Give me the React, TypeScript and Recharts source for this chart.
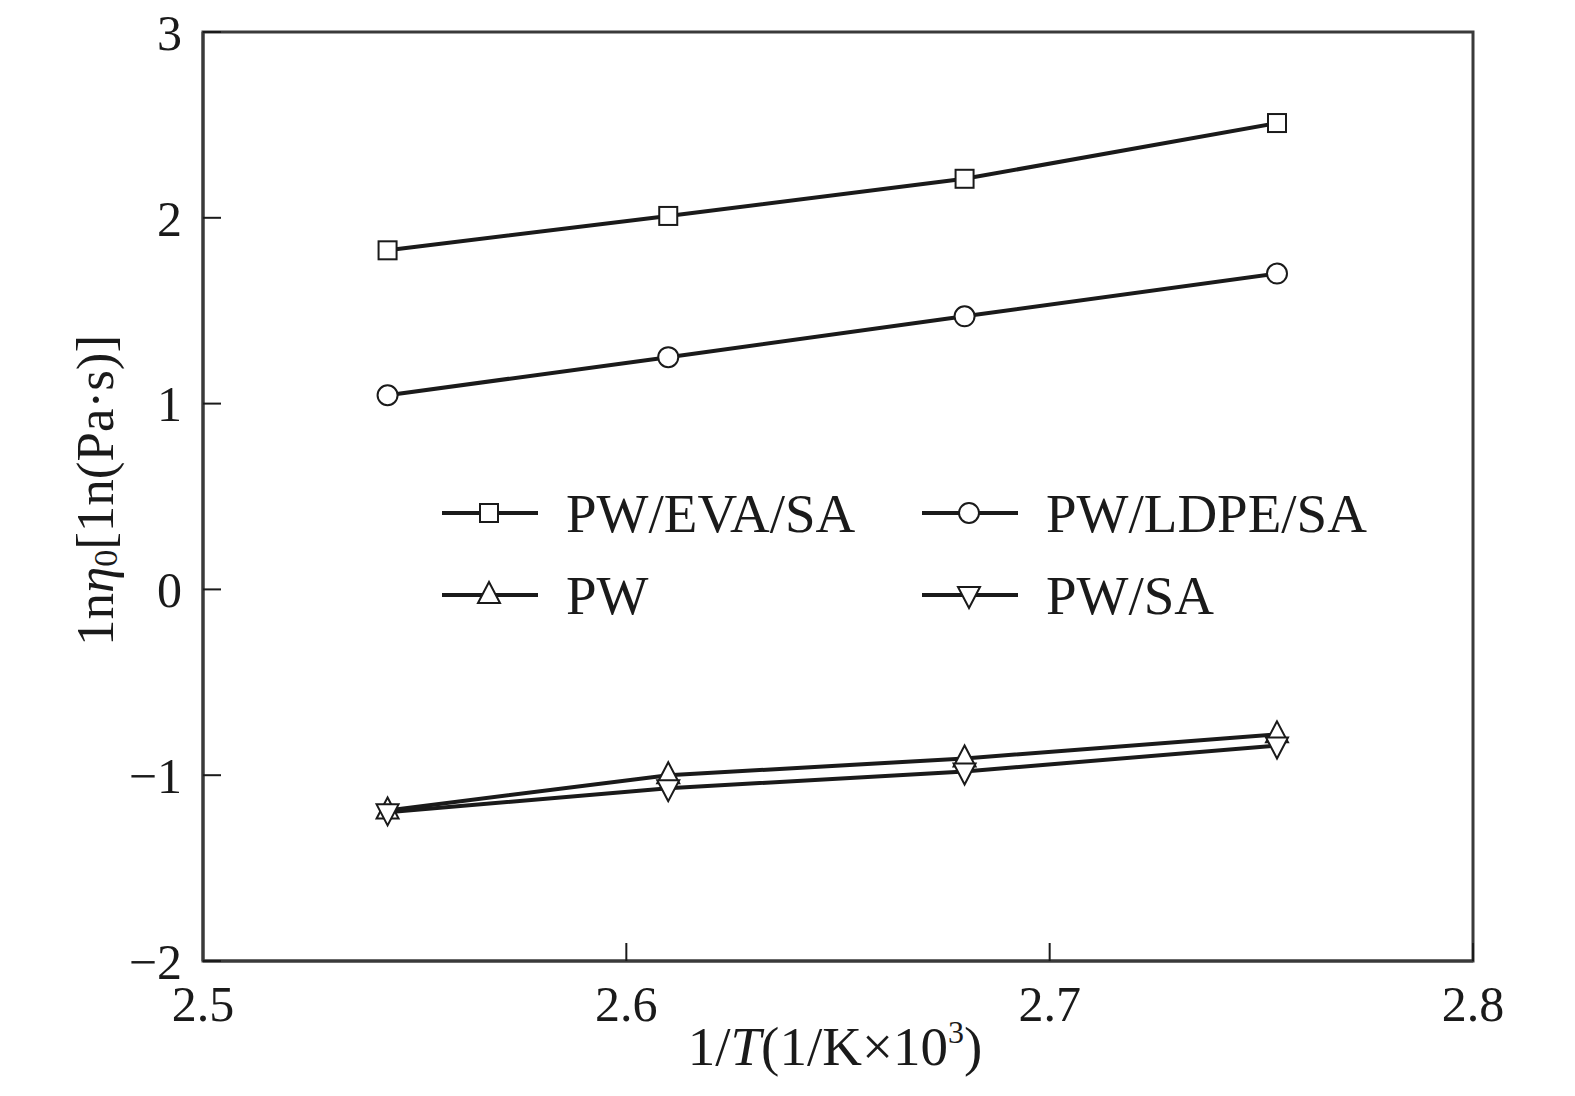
import { LineChart, Line, XAxis, YAxis, ReferenceArea } from 'recharts';

// 1000/T for 120, 110, 100, 90 °C
const invT = [2.5436, 2.6099, 2.6799, 2.7537];
const pwEvaSa = [1.825, 2.01, 2.21, 2.51];
const pwLdpeSa = [1.045, 1.25, 1.47, 1.7];
const pw = [-1.19, -1.0, -0.91, -0.78];
const pwSa = [-1.2, -1.07, -0.98, -0.84];

const xTicks = [2.5, 2.6, 2.7, 2.8];
const yTicks = [-2, -1, 0, 1, 2, 3];

const seriesList = [
  { key: 'eva', name: 'PW/EVA/SA', shape: 'square' },
  { key: 'ldpe', name: 'PW/LDPE/SA', shape: 'circle' },
  { key: 'pw', name: 'PW', shape: 'up' },
  { key: 'pwsa', name: 'PW/SA', shape: 'down' },
];

const rows = invT.map((x, i) => ({
  x,
  eva: pwEvaSa[i],
  ldpe: pwLdpeSa[i],
  pw: pw[i],
  pwsa: pwSa[i],
}));

const FONT = '"Liberation Serif", "Times New Roman", serif';
const INK = '#1a1a1a';
const FRAME = '#3a3a3a';

function Marker({ cx, cy, shape }: { cx: number; cy: number; shape: string }) {
  const common = { fill: '#fff', stroke: INK, strokeWidth: 2 };
  if (shape === 'square') return <rect x={cx - 9} y={cy - 9} width={18} height={18} {...common} />;
  if (shape === 'circle') return <circle cx={cx} cy={cy} r={10} {...common} />;
  if (shape === 'up')
    return <polygon points={`${cx},${cy - 13} ${cx - 11},${cy + 8} ${cx + 11},${cy + 8}`} {...common} />;
  return <polygon points={`${cx},${cy + 13} ${cx - 11},${cy - 8} ${cx + 11},${cy - 8}`} {...common} />;
}

const makeDot = (shape: string) => (props: any) => {
  const { cx, cy, index } = props;
  return <Marker key={`${shape}-${index}`} cx={cx} cy={cy} shape={shape} />;
};

function LegendBox() {
  return (
    <div
      style={{
        position: 'absolute',
        left: 440,
        top: 472,
        display: 'grid',
        gridTemplateColumns: '480px 480px',
        gridAutoRows: '82px',
        fontFamily: FONT,
        fontSize: 55,
        color: INK,
        pointerEvents: 'none',
      }}
    >
      {seriesList.map((s) => (
        <div key={s.key} style={{ display: 'flex', alignItems: 'center' }}>
          <svg width={100} height={40} style={{ overflow: 'visible' }}>
            <line x1={2} y1={20} x2={98} y2={20} stroke={INK} strokeWidth={4} />
            <Marker cx={49} cy={20} shape={s.shape} />
          </svg>
          <span style={{ marginLeft: 26, lineHeight: 1 }}>{s.name}</span>
        </div>
      ))}
    </div>
  );
}

function XTitle(props: any) {
  const { x, y, width } = props.viewBox;
  return (
    <text x={x + width / 2 - 3} y={y + 104} textAnchor="middle" fontFamily={FONT} fontSize={55} fill={INK}>
      1/<tspan fontStyle="italic">T</tspan>(1/K×10
      <tspan dy={-22} fontSize={32}>3</tspan>
      <tspan dy={22}>)</tspan>
    </text>
  );
}

function YTitle(props: any) {
  const { y, height } = props.viewBox;
  const cx = 95;
  const cy = y + height / 2 - 6;
  return (
    <text
      x={cx}
      y={cy}
      transform={`rotate(-90 ${cx} ${cy})`}
      textAnchor="middle"
      dominantBaseline="central"
      fontFamily={FONT}
      fontSize={53}
      fill={INK}
    >
      1n<tspan fontStyle="italic">η</tspan>
      <tspan dy={10} fontSize={34}>0</tspan>
      <tspan dy={-10}>[1n(Pa·s)]</tspan>
    </text>
  );
}

const fmtY = (v: number) => (v < 0 ? `−${Math.abs(v)}` : `${v}`);

export default function App() {
  return (
    <div style={{ position: 'absolute', left: 0, top: 0, width: 1575, height: 1096, background: '#fff' }}>
      <LineChart width={1575} height={1096} data={rows} margin={{ top: 32, right: 102, bottom: 0, left: 0 }}>
        <XAxis
          dataKey="x"
          type="number"
          domain={[2.5, 2.8]}
          ticks={xTicks}
          tickFormatter={(v: number) => v.toFixed(1)}
          height={135}
          axisLine={{ stroke: FRAME, strokeWidth: 3 }}
          tickLine={{ stroke: INK, strokeWidth: 2 }}
          tickSize={-18}
          tickMargin={42}
          tick={{ fontFamily: FONT, fontSize: 50, fill: INK }}
          interval={0}
          label={<XTitle />}
        />
        <YAxis
          type="number"
          domain={[-2, 3]}
          ticks={yTicks}
          tickFormatter={fmtY}
          width={203}
          axisLine={{ stroke: FRAME, strokeWidth: 3 }}
          tickLine={{ stroke: INK, strokeWidth: 2 }}
          tickSize={-18}
          tickMargin={39}
          tick={{ fontFamily: FONT, fontSize: 50, fill: INK }}
          interval={0}
          label={<YTitle />}
        />
        <ReferenceArea
          x1={2.5}
          x2={2.8}
          y1={-2}
          y2={3}
          fill="none"
          stroke={FRAME}
          strokeWidth={3}
          ifOverflow="visible"
        />
        {seriesList.map((s) => (
          <Line
            key={s.key}
            dataKey={s.key}
            name={s.name}
            type="linear"
            stroke={INK}
            strokeWidth={4}
            dot={makeDot(s.shape)}
            activeDot={false}
            isAnimationActive={false}
          />
        ))}
      </LineChart>
      <LegendBox />
    </div>
  );
}
